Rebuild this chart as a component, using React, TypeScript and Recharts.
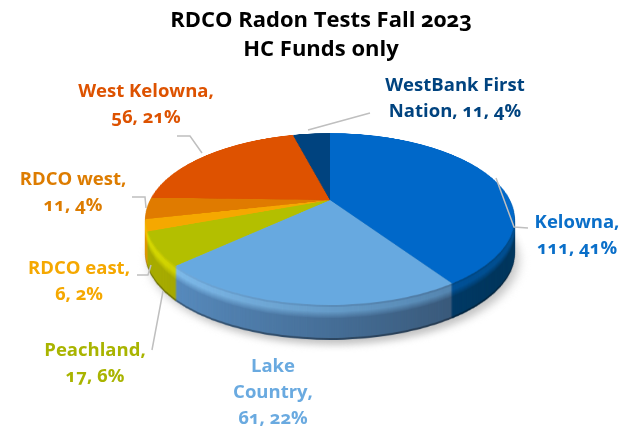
import React from "react";
import { PieChart, Pie, Cell } from "recharts";

const categories = ["Kelowna", "Lake Country", "Peachland", "RDCO east", "RDCO west", "West Kelowna", "WestBank First Nation"];
const values = [111, 61, 17, 6, 11, 56, 11];
const percents = ["41%", "22%", "6%", "2%", "4%", "21%", "4%"];
const titleLines = ["RDCO Radon Tests Fall 2023", "HC Funds only"];

const topColors = ["#0068c9", "#67a9e0", "#b3bf00", "#f5a800", "#e07b00", "#de5200", "#00437f"];
const sideLeft = ["#00569e", "#5c94cb", "#a8ac00", "#e09a00", "#c06a00", "#b84400", "#00335f"];
const sideRight = ["#00345c", "#33506e", "#8f9400", "#c08400", "#a05800", "#983800", "#002a50"];
const highlights = ["#0068c9", "#8fd0ff", "#e2e400", "#ffc800", "#e88a00", "#e05800", "#00437f"];
const labelColors = ["#0a6fc9", "#6aaae0", "#a9b400", "#f5a800", "#dd7c00", "#dd5200", "#00437f"];

// label text per slice, split the way the picture wraps it
const labelLines = [
  [`${categories[0]},`, `${values[0]}, ${percents[0]}`],
  ["Lake", "Country,", `${values[1]}, ${percents[1]}`],
  [`${categories[2]},`, `${values[2]}, ${percents[2]}`],
  [`${categories[3]},`, `${values[3]}, ${percents[3]}`],
  [`${categories[4]},`, `${values[4]}, ${percents[4]}`],
  [`${categories[5]},`, `${values[5]}, ${percents[5]}`],
  ["WestBank First", `Nation, ${values[6]}, ${percents[6]}`],
];
const labelPos = [
  [577, 222],
  [273, 366],
  [95, 350],
  [79, 268],
  [73, 179],
  [146, 91],
  [455, 85],
];
const leaderLines = [
  "496,178 514,227 528,228",
  "",
  "152,350 163,291",
  "137,275 148,275 151,265",
  "132,197 145,197 146,208",
  "177,136 190,136 202,153",
  "308,130 370,113",
];

const data = categories.map((name, i) => ({ name, value: values[i] }));

const DEPTH = 35;
const FONT = "'Open Sans', sans-serif";
const tilt = "perspective(725px) rotateX(63deg)";

const hex = (c: string) => [1, 3, 5].map((p) => parseInt(c.slice(p, p + 2), 16));
const mix = (a: string, b: string, t: number) => {
  const ca = hex(a);
  const cb = hex(b);
  return `rgb(${ca.map((v, i) => Math.round(v + (cb[i] - v) * t)).join(",")})`;
};

// how strong the rounded edge catches light at a given depth
const bevel = (d: number) => (d < 3 ? 0.55 : d < 7 ? 0.8 : d < 14 ? 0.8 - (d - 7) * 0.11 : 0);

const Layer = ({ depth, fills, defs, blur, dx = 0 }: any) => (
  <div
    style={{
      position: "absolute",
      left: 130 + dx,
      top: 0,
      width: 400,
      height: 400,
      transformOrigin: "200px 200px",
      transform: `translateY(${depth}px) ${tilt}`,
      filter: blur ? `blur(${blur}px)` : undefined,
    }}
  >
    <PieChart width={400} height={400} margin={{ top: 0, right: 0, bottom: 0, left: 0 }}>
      {defs}
      <Pie
        data={data}
        dataKey="value"
        nameKey="name"
        cx="50%"
        cy="50%"
        innerRadius={0}
        outerRadius={180}
        startAngle={90}
        endAngle={-270}
        stroke="none"
        isAnimationActive={false}
      >
        {data.map((_, i) => (
          <Cell key={`cell-${i}`} fill={fills(i)} stroke="none" />
        ))}
      </Pie>
    </PieChart>
  </div>
);

const SideLayer = ({ depth }: { depth: number }) => {
  const h = depth === DEPTH ? 0 : bevel(depth);
  const dark = depth >= DEPTH - 1 ? 0.35 : 0;
  return (
    <Layer
      depth={depth}
      fills={(i: number) => `url(#side-${depth}-${i})`}
      defs={
        <defs>
          {data.map((_, i) => (
            <linearGradient key={i} id={`side-${depth}-${i}`} gradientUnits="userSpaceOnUse" x1="20" y1="0" x2="340" y2="0">
              <stop offset="0" stopColor={mix(sideLeft[i], dark ? "#000000" : highlights[i], dark || h)} />
              <stop offset="1" stopColor={mix(sideRight[i], dark ? "#000000" : topColors[i], dark || h * 0.6)} />
            </linearGradient>
          ))}
        </defs>
      }
    />
  );
};

const depths = Array.from({ length: DEPTH }, (_, i) => DEPTH - i);

export default function App() {
  return (
    <div style={{ position: "absolute", left: 0, top: 0, width: 635, height: 432, overflow: "hidden", background: "#fff" }}>
      <Layer depth={DEPTH + 5} dx={4} blur={5} fills={() => "#c4c4c4"} />
      {depths.map((d) => (
        <SideLayer key={d} depth={d} />
      ))}
      <Layer depth={0} fills={(i: number) => topColors[i]} />
      <svg width={635} height={432} style={{ position: "absolute", left: 0, top: 0 }}>
        {titleLines.map((line, i) => (
          <text
            key={line}
            x={321}
            y={27 + i * 29}
            textAnchor="middle"
            fontFamily={FONT}
            fontWeight={700}
            fontSize={22}
            fill="#000"
            style={{ fontVariantNumeric: "oldstyle-nums" }}
          >
            {line}
          </text>
        ))}
        {leaderLines.map((pts, i) =>
          pts ? <polyline key={i} points={pts} fill="none" stroke="#bfbfbf" strokeWidth={1.5} /> : null
        )}
        {labelLines.map((lines, i) =>
          lines.map((line, j) => (
            <text
              key={`${i}-${j}`}
              x={labelPos[i][0]}
              y={labelPos[i][1] + j * 26 + 6}
              textAnchor="middle"
              fontFamily={FONT}
              fontWeight={700}
              fontSize={18.5}
              fill={labelColors[i]}
              style={{ fontVariantNumeric: "oldstyle-nums" }}
            >
              {line}
            </text>
          ))
        )}
      </svg>
    </div>
  );
}
